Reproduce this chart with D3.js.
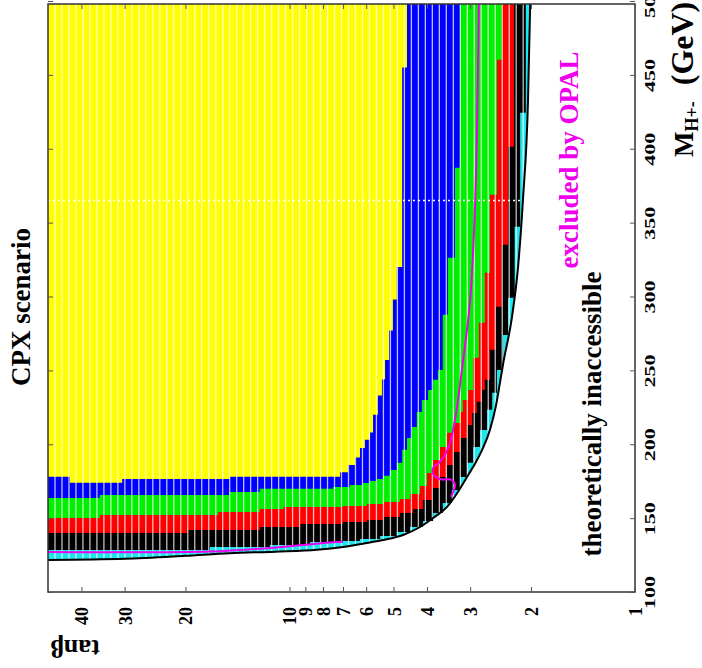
<!DOCTYPE html>
<html>
<head>
<meta charset="utf-8">
<script src="https://cdn.jsdelivr.net/npm/d3@7"></script>
<style>
body { margin: 0; background: #fff; }
svg { display: block; }
text { font-family: "Liberation Serif", "Times New Roman", serif; font-weight: bold; }
</style>
</head>
<body>
<svg id="chart" width="702" height="668"></svg>
<script>

// tick values
var tanb_ticks = [1, 2, 3, 4, 5, 6, 7, 8, 9, 10, 20, 30, 40];
var mass_ticks = [100, 150, 200, 250, 300, 350, 400, 450, 500];

// edge of each band as [tanb, M_H+ (GeV)] steps, tanb going down
var theory_edge = [[50, 121.7], [30, 122.5], [20, 124.5], [14.9, 126.2], [11, 127.3], [8.33, 128.6], [7.0, 130.5],
	[5.97, 133.2], [5.36, 135.2], [4.69, 138.6], [4.19, 144], [3.84, 150.1], [3.5, 157.6], [3.27, 167], [3.1, 175.8],
	[2.94, 184.7], [2.77, 196.2], [2.63, 209.7], [2.53, 225.3], [2.46, 241.5], [2.41, 254], [2.27, 286.2],
	[2.18, 320.1], [2.11, 365.5], [2.04, 433.2], [2.01, 500]];

var black_edge = [[50, 128.4], [17.0, 130.5], [11.4, 131.8], [8.72, 133.9], [7.14, 134.5], [6.25, 135.9], [5.47, 137.9],
	[4.89, 140.6], [4.48, 144.0], [4.11, 148.1], [3.84, 153.5], [3.60, 160.3], [3.39, 169.1], [3.21, 177.9],
	[3.06, 187.4], [2.94, 198.2], [2.81, 209.7], [2.68, 223.3], [2.59, 234.8], [2.51, 250.3], [2.41, 274.0],
	[2.33, 299.1], [2.23, 347.2], [2.15, 424.4], [2.07, 500]];

var red_edge = [[50, 140.0], [19.7, 142.0], [12.2, 144.0], [9.33, 146.0], [7.0, 147.4], [5.97, 148.8], [5.36, 150.8],
	[4.79, 153.5], [4.39, 156.2], [4.11, 162.3], [3.87, 170.4], [3.67, 177.9], [3.50, 186.0], [3.36, 194.8],
	[3.21, 204.3], [3.06, 213.1], [2.96, 221.2], [2.87, 228.7], [2.77, 236.8], [2.72, 243.6], [2.63, 263.9],
	[2.53, 293.0], [2.43, 335.0], [2.33, 401.4], [2.24, 500]];

var green_edge = [[50, 150.1], [35.4, 152.1], [16.1, 154.2], [12.2, 156.2], [10.4, 157.6], [7.0, 158.2], [5.97, 159.6],
	[5.36, 160.9], [4.79, 163.0], [4.48, 166.4], [4.19, 171.8], [4.0, 180.6], [3.84, 189.4], [3.67, 198.2],
	[3.50, 207.7], [3.36, 214.4], [3.21, 221.9], [3.15, 230.0], [3.04, 236.8], [2.94, 258.5], [2.83, 282.2],
	[2.72, 316.0], [2.63, 368.8], [2.51, 460.3], [2.43, 500]];

var blue_edge = [[50, 163.7], [35.4, 165.7], [14.9, 167.7], [12.2, 169.8], [7.48, 171.1], [6.68, 172.5], [6.13, 173.8],
	[5.85, 175.2], [5.58, 176.5], [5.36, 178.6], [5.12, 182.6], [4.89, 187.4], [4.72, 196.2], [4.57, 204.3],
	[4.42, 211.7], [4.28, 221.9], [4.14, 230.0], [3.97, 236.8], [3.84, 243.6], [3.72, 250.3], [3.60, 287.6],
	[3.48, 326.2], [3.32, 387.1], [3.21, 500]];

var yellow_edge = [[50, 178], [43.2, 174], [30.5, 176.5], [14.9, 178], [7.14, 181], [6.77, 186], [6.46, 191],
	[6.25, 197.5], [6.05, 203], [5.85, 208], [5.73, 220], [5.55, 233], [5.40, 244], [5.29, 257], [5.15, 277],
	[5.02, 298], [4.89, 320], [4.72, 455], [4.57, 500]];

// OPAL exclusion contour (two visible pieces)
var opal_upper = [[2.83, 500], [2.90, 365.5], [3.0, 297.7], [3.17, 250.3], [3.32, 216.5], [3.46, 198.2], [3.67, 188],
	[3.84, 184], [3.84, 179.9], [3.67, 176.5], [3.39, 175.8], [3.32, 172.5], [3.41, 164.3]];
var opal_lower = [[7.0, 134], [7.63, 133.5], [11.4, 129.8], [17, 127.4], [50, 127.1]];

var scan_line_mass = 365;  // white dotted row
var n_cols = 84;           // scan columns in tanb

var title_text = 'CPX scenario';
var theory_text = 'theoretically inaccessible';
var opal_text = 'excluded by OPAL';

var band_colors = {cyan: '#1ee6ee', black: '#000000', red: '#ff0000', green: '#00f000', blue: '#0000ff', yellow: '#ffff00'};
var opal_color = '#ee00ee';

var plot_l = 48, plot_r = 635, plot_t = 4, plot_b = 592;

var svg = d3.select('#chart');

var x = d3.scaleLog().domain([1, 50]).range([plot_r, plot_l]);
var y = d3.scaleLinear().domain([100, 500]).range([592, 1]);

var defs = svg.append('defs');
defs.append('clipPath').attr('id', 'frame-clip')
	.append('rect').attr('x', plot_l).attr('y', plot_t).attr('width', plot_r - plot_l).attr('height', plot_b - plot_t);

var theoryArea = d3.area()
	.x(function (d) { return x(d[0]); })
	.y0(y(500))
	.y1(function (d) { return y(d[1]); })
	.curve(d3.curveMonotoneX);

var stepArea = d3.area()
	.x(function (d) { return x(d[0]); })
	.y0(y(500))
	.y1(function (d) { return y(d[1]); })
	.curve(d3.curveStepAfter);

defs.append('clipPath').attr('id', 'theory-clip')
	.append('path').attr('d', theoryArea(theory_edge));

var plot = svg.append('g').attr('clip-path', 'url(#frame-clip)');

plot.append('path').attr('d', theoryArea(theory_edge)).attr('fill', band_colors.cyan);

var bands = [['black', black_edge], ['red', red_edge], ['green', green_edge], ['blue', blue_edge], ['yellow', yellow_edge]];
bands.forEach(function (b) {
	plot.append('path')
		.attr('d', stepArea(b[1]))
		.attr('fill', band_colors[b[0]]);
});

// white column separators of the scan
var scan = plot.append('g').attr('clip-path', 'url(#theory-clip)');
var col_edges = d3.range(1, n_cols).map(function (i) { return Math.pow(50, i / n_cols); });
scan.selectAll('line.col')
	.data(col_edges)
	.enter().append('line')
	.attr('class', 'col')
	.attr('x1', function (d) { return x(d); })
	.attr('x2', function (d) { return x(d); })
	.attr('y1', plot_t)
	.attr('y2', plot_b)
	.attr('stroke', '#fff')
	.attr('stroke-opacity', 0.75)
	.attr('stroke-width', 1.3);

scan.append('line')
	.attr('x1', plot_l).attr('x2', plot_r)
	.attr('y1', y(scan_line_mass)).attr('y2', y(scan_line_mass))
	.attr('stroke', '#fff')
	.attr('stroke-width', 1.6)
	.attr('stroke-dasharray', '2,3');

// theoretical boundary
var edgeLine = d3.line()
	.x(function (d) { return x(d[0]); })
	.y(function (d) { return y(d[1]); })
	.curve(d3.curveMonotoneX);

plot.append('path')
	.attr('d', edgeLine(theory_edge))
	.attr('fill', 'none')
	.attr('stroke', '#000')
	.attr('stroke-width', 2);

var opalLine = d3.line()
	.x(function (d) { return x(d[0]); })
	.y(function (d) { return y(d[1]); })
	.curve(d3.curveCatmullRom.alpha(0.5));

[opal_upper, opal_lower].forEach(function (seg) {
	plot.append('path')
		.attr('d', opalLine(seg))
		.attr('fill', 'none')
		.attr('stroke', opal_color)
		.attr('stroke-width', 2);
});

// frame
svg.append('rect')
	.attr('x', plot_l).attr('y', plot_t)
	.attr('width', plot_r - plot_l).attr('height', plot_b - plot_t)
	.attr('fill', 'none')
	.attr('stroke', '#333')
	.attr('stroke-width', 1.5);

// inner ticks on all four sides
function noDomain(g) { g.select('.domain').remove(); g.selectAll('line').attr('stroke', '#555'); }

svg.append('g').attr('transform', 'translate(0,' + plot_t + ')')
	.call(d3.axisBottom(x).tickValues(tanb_ticks).tickSize(5).tickFormat(''))
	.call(noDomain);
svg.append('g').attr('transform', 'translate(0,' + plot_b + ')')
	.call(d3.axisTop(x).tickValues(tanb_ticks).tickSize(5).tickFormat(''))
	.call(noDomain);
svg.append('g').attr('transform', 'translate(' + plot_l + ',0)')
	.call(d3.axisRight(y).tickValues(mass_ticks).tickSize(5).tickFormat(''))
	.call(noDomain);
svg.append('g').attr('transform', 'translate(' + plot_r + ',0)')
	.call(d3.axisLeft(y).tickValues(mass_ticks).tickSize(5).tickFormat(''))
	.call(noDomain);

// tanb labels (rotated)
var tanbAxis = svg.append('g').attr('transform', 'translate(0,' + plot_b + ')')
	.call(d3.axisBottom(x).tickValues(tanb_ticks).tickSize(0).tickFormat(d3.format('d')))
	.call(noDomain);
tanbAxis.attr('font-family', null).attr('font-size', null);
tanbAxis.selectAll('text')
	.attr('y', null).attr('dy', null)
	.attr('fill', '#000')
	.attr('font-size', 18)
	.attr('text-anchor', 'end')
	.attr('transform', 'translate(6.5,15) rotate(-90)');

// mass labels (rotated)
var massAxis = svg.append('g').attr('transform', 'translate(' + plot_r + ',0)')
	.call(d3.axisRight(y).tickValues(mass_ticks).tickSize(0).tickFormat(d3.format('d')))
	.call(noDomain);
massAxis.attr('font-family', null).attr('font-size', null);
massAxis.selectAll('text')
	.attr('x', null).attr('dy', null)
	.attr('fill', '#000')
	.attr('font-size', 15)
	.attr('font-weight', 'normal')
	.attr('textLength', 33)
	.attr('lengthAdjust', 'spacingAndGlyphs')
	.attr('text-anchor', 'middle')
	.attr('transform', 'translate(20,0) rotate(-90)');

// titles
svg.append('text')
	.attr('transform', 'translate(30,307) rotate(-90)')
	.attr('text-anchor', 'middle')
	.attr('font-size', 27)
	.text(title_text);

svg.append('text')
	.attr('transform', 'translate(601,414) rotate(-90)')
	.attr('text-anchor', 'middle')
	.attr('font-size', 27)
	.text(theory_text);

svg.append('text')
	.attr('transform', 'translate(578,160) rotate(-90)')
	.attr('text-anchor', 'middle')
	.attr('font-size', 27)
	.attr('fill', opal_color)
	.text(opal_text);

svg.append('text')
	.attr('transform', 'translate(100,640) rotate(180)')
	.attr('text-anchor', 'start')
	.attr('font-size', 26)
	.text('tan\u03b2');

var mTitle = svg.append('text')
	.attr('transform', 'translate(693,157) rotate(-90)')
	.attr('text-anchor', 'start')
	.attr('font-size', 27);
mTitle.append('tspan').text('M');
mTitle.append('tspan').attr('font-size', 18).attr('dy', 5).text('H+-');
mTitle.append('tspan').attr('dy', -5).attr('font-size', 32).text('\u2002(GeV)');

</script>
</body>
</html>
